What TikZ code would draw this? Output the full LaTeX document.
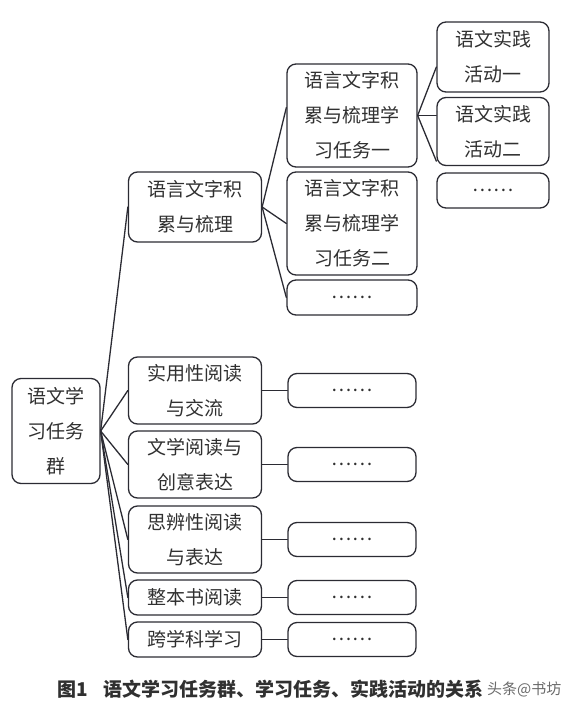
\documentclass[tikz,border=0pt]{standalone}
\usepackage{fontspec}
\newfontfamily\cjk{Noto Sans CJK SC}
\definecolor{boxline}{HTML}{2b2b33}
\definecolor{inkgray}{HTML}{303030}
\definecolor{markgray}{HTML}{6a6a6a}

\begin{document}
\begin{tikzpicture}[x=1pt, y=-1pt, line cap=round,
  box/.style={draw=boxline, line width=1.3pt, rounded corners=9pt, align=center,
    inner sep=0pt, text=inkgray, font=\cjk\fontsize{19}{35}\selectfont},
  link/.style={draw=boxline, line width=1.3pt}]

\useasboundingbox (0,0) rectangle (574,716);

% --- layout helpers ---
\def\A{56}     % root column x
\def\B{195}    % task group column x
\def\C{352}    % task column x
\def\D{493}    % activity column x

% --- root ---
\node[box, minimum width=88pt, minimum height=105pt] (root) at (\A,431) {语文学\\习任务\\群};

% --- first group with its tasks and activities ---
\node[box, minimum width=133pt, minimum height=70pt] (g1) at (\B,207) {语言文字积\\累与梳理};
\node[box, minimum width=130pt, minimum height=103pt] (t1) at (\C,115.5) {语言文字积\\累与梳理学\\习任务一};
\node[box, minimum width=130pt, minimum height=103pt] (t2) at (\C,223.5) {语言文字积\\累与梳理学\\习任务二};
\node[box, minimum width=130pt, minimum height=35pt] (t3) at (\C,297.5) {……};
\node[box, minimum width=112pt, minimum height=70pt] (a1) at (\D,57) {语文实践\\活动一};
\node[box, minimum width=112pt, minimum height=68pt] (a2) at (\D,131.5) {语文实践\\活动二};
\node[box, minimum width=112pt, minimum height=35pt] (a3) at (\D,190.5) {……};

\draw[link] (root.east) -- (g1.west);
\draw[link] (g1.east) -- ([yshift=8pt]t1.west);
\draw[link] (g1.east) -- (t2.west);
\draw[link] (g1.east) -- (t3.west);
\draw[link] (t1.east) -- ([yshift=-10pt]a1.west);
\draw[link] (t1.east) -- (a2.west |- t1.east);
\draw[link] (t1.east) -- ([yshift=5pt]a2.south west);

% --- a small macro for the other groups: name, y, height, label
\newcommand{\grouprow}[4]{%
  \node[box, minimum width=133pt, minimum height=#3] (#1) at (\B,#2) {#4};
  \node[box, minimum width=128pt, minimum height=34pt] (#1x) at (\C,#2) {……};
  \draw[link] (root.east) -- (#1.west);
  \draw[link] (#1.east) -- (#1x.west);
}

\grouprow{g2}{390.5}{67pt}{实用性阅读\\与交流}
\grouprow{g3}{464.5}{67pt}{文学阅读与\\创意表达}
\grouprow{g4}{539.5}{67pt}{思辨性阅读\\与表达}
\grouprow{g5}{597.5}{35pt}{整本书阅读}
\grouprow{g6}{639.5}{35pt}{跨学科学习}

% --- caption ---
\node[anchor=west, inner sep=0pt, text=inkgray, font=\cjk\bfseries\fontsize{19}{22}\selectfont]
  (cap) at (57,689) {图1\hspace{16pt}语文学习任务群、学习任务、实践活动的关系};
\node[anchor=west, inner sep=0pt, text=markgray, font=\cjk\fontsize{15}{18}\selectfont]
  (mark) at ([xshift=3pt]cap.east) {头条@书坊};

\end{tikzpicture}
\end{document}
